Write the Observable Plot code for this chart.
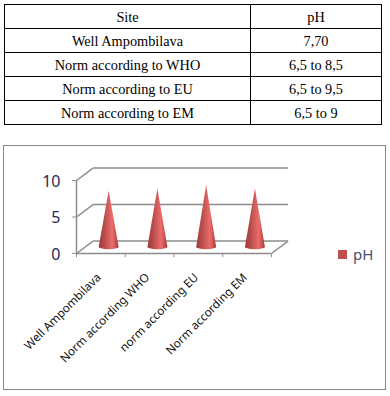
<!DOCTYPE html>
<html>
<head>
<meta charset="utf-8">
<script src="https://cdn.jsdelivr.net/npm/d3@7"></script>
<script src="https://cdn.jsdelivr.net/npm/@observablehq/plot@0.6"></script>
<style>
html,body{margin:0;padding:0;background:#fff;width:390px;height:396px;overflow:hidden}
#tbl{position:absolute;left:4px;top:4px;width:378px;height:120px;border-collapse:collapse;table-layout:fixed;font:14.3px "Liberation Serif",serif;color:#000}
#tbl td{border:1px solid #000;text-align:center;padding:1px 0 0;height:22px}
#frame{position:absolute;left:3px;top:145px;width:381px;height:243px;border:1px solid #868686;box-sizing:content-box}
#chart{position:absolute;left:0;top:0}
#legend{position:absolute;left:334px;top:98px;display:flex;align-items:center;gap:6px;font:15px "Noto Sans",sans-serif;color:#44546a}
#legend i{display:block;width:9px;height:9px;background:#c0504d}
</style>
</head>
<body>
<table id="tbl"></table>
<div id="frame"><div id="chart"></div><div id="legend"><i></i><span>pH</span></div></div>
<script>
const tableHeader = ["Site", "pH"];
const tableSites = ["Well Ampombilava", "Norm according to WHO", "Norm according to EU", "Norm according to EM"];
const tableValues = ["7,70", "6,5 to 8,5", "6,5 to 9,5", "6,5 to 9"];
const categories = ["Well Ampombilava", "Norm according WHO", "norm according EU", "Norm according EM"];
const pH = [7.7, 8, 8.5, 8];
const yTicks = [0, 5, 10];
const depthX = 0.34, depthY = 1.7;   // 3D box depth in scale units
const coneHalf = 0.205, coneFoot = 0.3;

const tbl = d3.select("#tbl");
const colgroup = tbl.append("colgroup");
colgroup.append("col").style("width", "246px");
colgroup.append("col");
[[tableHeader[0], tableHeader[1]], ...tableSites.map((s, i) => [s, tableValues[i]])].forEach(r => {
  const tr = tbl.append("tr");
  r.forEach(c => tr.append("td").text(c));
});

const n = categories.length;
const centers = categories.map((c, i) => i + 0.5 + depthX / 2);
const coneRows = [];
pH.forEach((v, i) => {
  const base = depthY / 2 - 0.02;
  coneRows.push({i, y: base + v, x1: centers[i], x2: centers[i]});
  coneRows.push({i, y: base, x1: centers[i] - coneHalf, x2: centers[i] + coneHalf});
  [0.25, 0.5, 0.75, 0.9, 1].forEach(t => {
    const w = coneHalf * Math.sqrt(1 - t * t);
    coneRows.push({i, y: base - t * coneFoot, x1: centers[i] - w, x2: centers[i] + w});
  });
});

const gray = "#8c8c8c";
const defs = () => {
  const d = d3.create("svg:defs");
  const g = d.append("linearGradient").attr("id", "cone").attr("x1", 0).attr("x2", 1).attr("y1", 0).attr("y2", 0);
  [[0, "#a03a38"], [0.3, "#b84e4c"], [0.68, "#ec6c6b"], [0.85, "#c85452"], [1, "#a03a38"]]
    .forEach(([o, c]) => g.append("stop").attr("offset", o).attr("stop-color", c));
  return d.node();
};

const plot = Plot.plot({
  width: 381, height: 243,
  marginLeft: 72, marginRight: 114, marginTop: 34, marginBottom: 136,
  x: {domain: [0, n], axis: null},
  y: {domain: [0, 10], axis: null},
  style: {background: "transparent", overflow: "visible"},
  marks: [
    defs,
    // back wall grid + left-wall diagonals
    Plot.link(yTicks, {x1: depthX, x2: n + depthX, y1: d => d + depthY, y2: d => d + depthY, stroke: gray, strokeWidth: 1.5}),
    Plot.link(yTicks, {x1: 0, x2: depthX, y1: d => d, y2: d => d + depthY, stroke: gray, strokeWidth: 1.5}),
    Plot.link([n], {x1: d => d, x2: d => d + depthX, y1: 0, y2: depthY, stroke: gray, strokeWidth: 1.5}),
    // y axis line, x axis line
    Plot.ruleX([0], {y1: 0, y2: 10, stroke: gray, strokeWidth: 1.5}),
    Plot.ruleY([0], {x1: 0, x2: n, stroke: gray, strokeWidth: 1.5}),
    Plot.link(d3.range(n + 1), {x1: d => d, x2: d => d, y1: 0, y2: -0.5, stroke: gray}),
    Plot.link(yTicks, {x1: -0.09, x2: 0, y1: d => d, y2: d => d, stroke: gray}),
    // cones
    Plot.areaX(coneRows, {x1: "x1", x2: "x2", y: "y", z: "i", fill: "url(#cone)", curve: "linear"}),
    // tick labels
    Plot.text(yTicks, {x: 0, y: d => d, text: d => String(d), textAnchor: "end", dx: -16, dy: 1, fontSize: 16, fontFamily: "Noto Sans", fill: "#1f2a5a"}),
    Plot.text(categories, {x: (d, i) => i + 0.5, y: 0, text: d => d, textAnchor: "end", rotate: -45, dx: -2, dy: 22, fontSize: 11.7, fontFamily: "Noto Sans", fill: "#111"})
  ]
});
document.getElementById("chart").append(plot);
</script>
</body>
</html>
